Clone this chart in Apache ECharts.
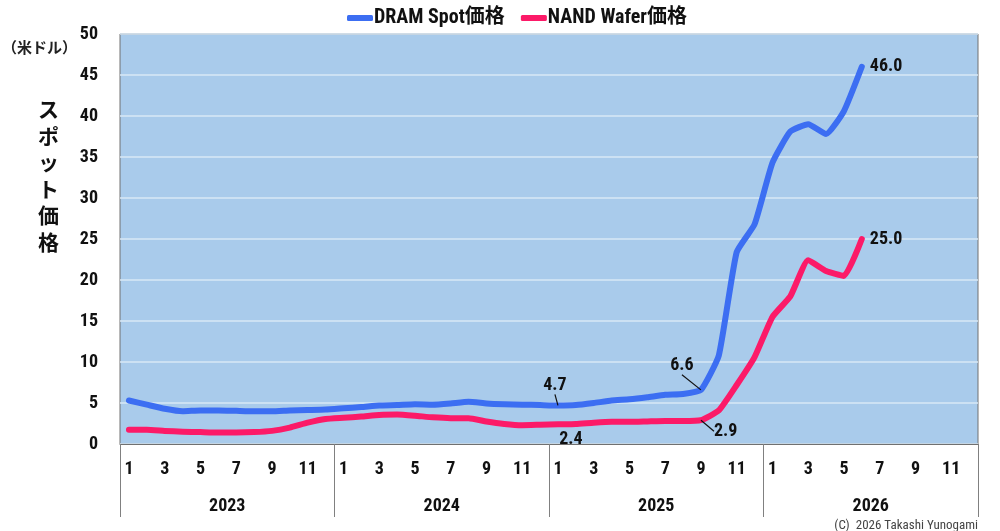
<!DOCTYPE html>
<html><head><meta charset="utf-8">
<script src="https://cdn.jsdelivr.net/npm/echarts@6/dist/echarts.min.js"></script>
<style>html,body{margin:0;padding:0;background:#fff}#c{width:1000px;height:531px}</style>
</head><body><div id="c"></div>
<script>
const years = ['2023','2024','2025','2026'];
const monthLabels = ['1','2','3','4','5','6','7','8','9','10','11','12'];
const yTicks = [0,5,10,15,20,25,30,35,40,45,50];
const dramSpot = [
  5.3, 4.8, 4.3, 4.0, 4.1, 4.1, 4.05, 4.0, 4.0, 4.1, 4.15, 4.2,
  4.35, 4.5, 4.7, 4.75, 4.85, 4.8, 4.95, 5.15, 4.95, 4.85, 4.8, 4.75,
  4.7, 4.75, 5.0, 5.3, 5.45, 5.7, 6.0, 6.1, 6.6, 10.8, 23.4, 26.8,
  34.3, 38.1, 39.0, 37.8, 40.6, 46.0
];
const nandWafer = [
  1.75, 1.75, 1.6, 1.5, 1.45, 1.4, 1.4, 1.45, 1.6, 2.0, 2.6, 3.05,
  3.2, 3.35, 3.55, 3.6, 3.45, 3.25, 3.15, 3.15, 2.75, 2.45, 2.3, 2.35,
  2.4, 2.45, 2.6, 2.7, 2.7, 2.75, 2.8, 2.8, 2.9, 4.1, 7.2, 10.6,
  15.5, 18.0, 22.4, 21.1, 20.5, 25.0
];
const seriesNames = ['DRAM Spot価格','NAND Wafer価格'];

const months = [];
years.forEach(y => monthLabels.forEach(m => months.push(y + '-' + m)));

const NARROW = "Roboto,'Noto Sans CJK JP',sans-serif";
const JP = "'Noto Sans CJK JP',sans-serif";
const BOLDC = 'bold condensed';

const dramLabelIdx = {24:'4.7', 32:'6.6', 41:'46.0'};
const nandLabelIdx = {24:'2.4', 32:'2.9', 41:'25.0'};

function mkData(arr, labels, layouts) {
  return arr.map((v, i) => {
    if (labels[i] === undefined) return v;
    const lay = layouts[i] || {};
    const item = {value: v, label: Object.assign({show: true, formatter: labels[i]}, lay.label || {})};
    if (lay.noLine) item.labelLine = {show: false};
    return item;
  });
}
const lblStyle = {fontFamily: NARROW, fontWeight: BOLDC, fontSize: 18, color: '#111'};

const chart = echarts.init(document.getElementById('c'));
chart.setOption({
  animation: false,
  textStyle: {fontFamily: NARROW},
  legend: {
    top: 3, left: 342,
    itemWidth: 26, itemHeight: 6, itemGap: 16,
    icon: 'roundRect',
    textStyle: {fontFamily: NARROW, fontWeight: BOLDC, fontSize: 20, color: '#111', padding: [0,0,0,-4]},
    data: seriesNames
  },
  title: [
    {text: '（米ドル）', left: -3, top: 35, textStyle: {fontFamily: JP, fontSize: 15, fontWeight: 'bold', color: '#222'}},
    {text: 'ス\nポ\nッ\nト\n価\n格', left: 33, top: 91, textStyle: {fontFamily: JP, fontSize: 21, fontWeight: 'bold', color: '#111', lineHeight: 26.5}},
    {text: '(C)  2026 Takashi Yunogami', right: 17, top: 514, textStyle: {fontFamily: NARROW, fontSize: 13, fontWeight: 'normal condensed', color: '#444'}}
  ],
  grid: {left: 120, right: 22, top: 34, bottom: 87, show: true, backgroundColor: '#a9cbeb', borderColor: '#707070', borderWidth: 1},
  xAxis: [
    {
      type: 'category', data: months, boundaryGap: true,
      axisLine: {show: true, lineStyle: {color: '#707070', width: 1}},
      axisTick: {show: false},
      axisLabel: {interval: 1, margin: 17, formatter: v => v.split('-')[1], fontFamily: NARROW, fontWeight: BOLDC, fontSize: 18, color: '#111'}
    },
    {
      type: 'category', data: years, position: 'bottom', boundaryGap: true,
      axisLine: {show: false},
      axisTick: {show: true, interval: 0, length: 73, lineStyle: {color: '#808080', width: 1}},
      axisLabel: {interval: 0, margin: 54, fontFamily: NARROW, fontWeight: BOLDC, fontSize: 18, color: '#111'}
    }
  ],
  yAxis: {
    type: 'value', min: yTicks[0], max: yTicks[yTicks.length-1], interval: 5,
    axisLine: {show: false}, axisTick: {show: false},
    splitLine: {lineStyle: {color: '#d9e8f6', width: 1.5}},
    axisLabel: {margin: 22, fontFamily: NARROW, fontWeight: BOLDC, fontSize: 18, color: '#111'}
  },
  series: [
    {
      name: seriesNames[0], type: 'line', xAxisIndex: 0, smooth: 0.15,
      symbol: 'circle', symbolSize: 0.1, showSymbol: true,
      lineStyle: {color: '#3c6ef2', width: 6, cap: 'round', join: 'round'},
      itemStyle: {color: '#3c6ef2'},
      label: Object.assign({show: false}, lblStyle),
      labelLine: {show: true, lineStyle: {color: '#111', width: 1.2}},
      labelLayout: p => {
        if (p.dataIndex === 24) return {dx: -3, dy: -3};
        if (p.dataIndex === 32) return {dx: -19, dy: -7};
        return {};
      },
      data: mkData(dramSpot, dramLabelIdx, {
        24: {label: {position: 'top', distance: 8}},
        32: {label: {position: 'top', distance: 8}},
        41: {label: {position: 'right', distance: 8}, noLine: true}
      })
    },
    {
      name: seriesNames[1], type: 'line', xAxisIndex: 0, smooth: 0.15,
      symbol: 'circle', symbolSize: 0.1, showSymbol: true,
      lineStyle: {color: '#fc1a68', width: 6, cap: 'round', join: 'round'},
      itemStyle: {color: '#fc1a68'},
      label: Object.assign({show: false}, lblStyle),
      labelLine: {show: true, lineStyle: {color: '#111', width: 1.2}},
      labelLayout: p => {
        if (p.dataIndex === 24) return {dx: 13, dy: 2};
        if (p.dataIndex === 32) return {dx: 9, dy: 11};
        return {};
      },
      data: mkData(nandWafer, nandLabelIdx, {
        24: {label: {position: 'bottom', distance: 4}, noLine: true},
        32: {label: {position: 'right', distance: 4}},
        41: {label: {position: 'right', distance: 8}, noLine: true}
      })
    }
  ]
});
</script></body></html>
